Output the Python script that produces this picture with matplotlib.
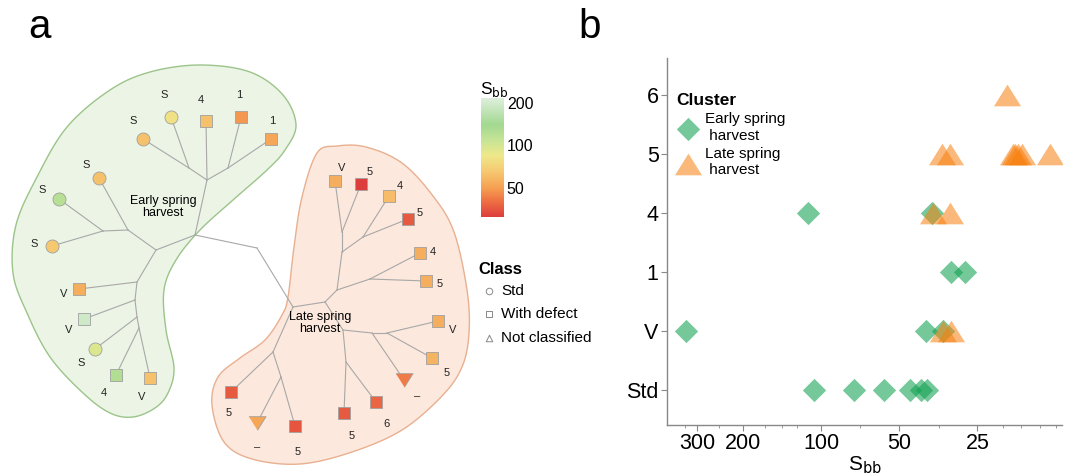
import numpy as np
import matplotlib
matplotlib.use("Agg")
import matplotlib.pyplot as plt
from matplotlib.colors import LinearSegmentedColormap, LogNorm
from matplotlib.cm import ScalarMappable

plt.rcParams['font.family'] = ['Liberation Sans', 'DejaVu Sans']

# ---------------- panel a data (tree leaves) ----------------
early_lab = ['S', 'S', '4', '1', '1', 'S', 'S', 'S', 'V', 'V', 'S', '4', 'V']
early_val = [62, 80, 62, 48, 52, 62, 120, 65, 55, 190, 95, 125, 62]
early_xy = [(143, 139), (171, 117), (206, 121), (241, 117), (271, 139), (99, 178), (59, 199),
            (52, 246), (79, 289), (84, 319), (95, 349), (116, 375), (150, 378)]
early_txt = [(133, 121), (164, 95), (201, 100), (239, 95), (272, 121), (86, 165), (42, 190),
             (34, 244), (64, 294), (69, 330), (81, 363), (104, 393), (142, 397)]

late_lab = ['V', '5', '4', '5', '4', '5', 'V', '5', '–', '6', '5', '5', '–', '5']
late_val = [55, 31, 60, 36, 55, 55, 55, 57, 42, 38, 36, 36, 52, 35]
late_xy = [(335, 181), (361, 184), (389, 196), (408, 219), (420, 253), (426, 281), (438, 321),
           (432, 358), (404, 380), (376, 402), (344, 413), (231, 392), (257, 423), (295, 426)]
late_txt = [(342, 168), (370, 172), (400, 186), (420, 213), (433, 252), (440, 284), (453, 330),
            (447, 373), (417, 396), (386, 424), (352, 436), (229, 413), (257, 447), (298, 452)]

# internal nodes of the tree
nodes = {
    'J1': (189, 168), 'J2': (228, 168), 'A': (207, 180), 'B': (195, 235),
    'E': (103, 231), 'D': (128, 230), 'C': (156, 250),
    'T1': (137, 282), 'T2': (135, 300), 'T3': (137, 317), 'T4': (139, 328),
    'L1': (257, 248), 'R0': (293, 307),
    'K1': (342, 232), 'K2': (363, 237), 'K3': (342, 252), 'K4': (370, 279), 'K5': (337, 290),
    'K6': (325, 302), 'P': (343, 330), 'Q': (346, 362), 'R': (372, 333), 'S': (387, 333),
    'M': (273, 352), 'N': (281, 377),
}
for i, p in enumerate(early_xy):
    nodes['e%d' % i] = p
for i, p in enumerate(late_xy):
    nodes['l%d' % i] = p

edges = [('e0', 'J1'), ('e1', 'J1'), ('J1', 'A'), ('e2', 'A'), ('e3', 'J2'), ('e4', 'J2'), ('J2', 'A'),
         ('A', 'B'), ('e5', 'D'), ('e6', 'E'), ('e7', 'E'), ('E', 'D'), ('D', 'C'), ('C', 'B'),
         ('C', 'T1'), ('T1', 'T2'), ('T2', 'T3'), ('T3', 'T4'),
         ('e8', 'T1'), ('e9', 'T2'), ('e10', 'T3'), ('e11', 'T4'), ('e12', 'T4'),
         ('B', 'L1'), ('L1', 'R0'), ('R0', 'K6'),
         ('l0', 'K1'), ('l1', 'K1'), ('l2', 'K2'), ('l3', 'K2'), ('K1', 'K3'), ('K2', 'K3'),
         ('l4', 'K4'), ('l5', 'K4'), ('K3', 'K5'), ('K4', 'K5'), ('K5', 'K6'),
         ('K6', 'P'), ('P', 'Q'), ('Q', 'l10'), ('l9', 'Q'), ('P', 'R'), ('l8', 'R'), ('R', 'S'),
         ('l6', 'S'), ('l7', 'S'),
         ('R0', 'M'), ('l11', 'M'), ('M', 'N'), ('l12', 'N'), ('l13', 'N')]

early_hull = [(200, 65), (250, 72), (283, 95), (296, 125), (285, 150), (267, 170), (233, 200),
              (200, 230), (176, 260), (164, 290), (166, 330), (174, 368), (168, 393), (155, 408),
              (133, 417), (110, 413), (83, 393), (50, 357), (27, 313), (13, 273), (16, 225),
              (37, 177), (67, 127), (110, 90), (150, 72)]
late_hull = [(337, 146), (317, 153), (302, 197), (294, 247), (288, 297), (282, 315), (265, 340),
             (240, 358), (218, 377), (212, 405), (224, 442), (252, 459), (300, 464), (352, 452),
             (402, 430), (442, 396), (462, 367), (469, 333), (467, 290), (454, 232), (433, 196),
             (402, 163), (366, 147)]

# colour scale (S_bb)
cmap_vals = [31, 40, 50, 65, 85, 110, 140, 216]
cmap_cols = ['#dc3d3d', '#ee7042', '#f5a052', '#f6c870', '#eee88a', '#c4e496', '#a2d890', '#deefdc']

# ---------------- panel b data ----------------
classes = ['Std', 'V', '1', '4', '5', '6']
early_sbb = [112, 37.3, 31.5, 27.8, 330, 39.4, 33.8, 106, 74.5, 57, 45.3, 41.1, 39.0]
early_cls = ['4', '4', '1', '1', 'V', 'V', 'V', 'Std', 'Std', 'Std', 'Std', 'Std', 'Std']
late_sbb = [19.2, 34.1, 32.0, 18.3, 17.9, 17.5, 16.8, 13.1, 37.0, 31.8, 34.0, 31.5]
late_cls = ['6', '5', '5', '5', '5', '5', '5', '5', '4', '4', 'V', 'V']

x_major = [300, 200, 100, 50, 25]
x_minor = [334, 248, 165, 141, 124, 71, 35, 20, 17, 14.4, 12.4]


def smooth_closed(pts, n=16):
    # closed Catmull-Rom curve through the outline points
    P = np.array(pts, float)
    m = len(P)
    t = np.linspace(0, 1, n, endpoint=False)[:, None]
    out = []
    for i in range(m):
        p0, p1, p2, p3 = P[i - 1], P[i], P[(i + 1) % m], P[(i + 2) % m]
        out.append(0.5 * (2 * p1 + (-p0 + p2) * t + (2 * p0 - 5 * p1 + 4 * p2 - p3) * t ** 2
                          + (-p0 + 3 * p1 - 3 * p2 + p3) * t ** 3))
    return np.vstack(out)


W, H = 1072, 475
fig = plt.figure(figsize=(W / 100, H / 100), dpi=100)

# ---------------- panel a ----------------
ax = fig.add_axes([0, 0, 1, 1])
ax.set_xlim(0, W)
ax.set_ylim(H, 0)
ax.axis('off')

for hull, fc, ec in [(early_hull, '#ebf4e5', '#9cc48a'), (late_hull, '#fce8dc', '#e8b090')]:
    s = smooth_closed(hull)
    ax.fill(s[:, 0], s[:, 1], facecolor=fc, edgecolor=ec, lw=1.0, zorder=1)

for a, b in edges:
    ax.plot([nodes[a][0], nodes[b][0]], [nodes[a][1], nodes[b][1]], color='#a8a8a8', lw=0.8, zorder=2)

cpos = [np.log(v / cmap_vals[0]) / np.log(cmap_vals[-1] / cmap_vals[0]) for v in cmap_vals]
cmap = LinearSegmentedColormap.from_list('sbb', list(zip(cpos, cmap_cols)))
norm = LogNorm(vmin=cmap_vals[0], vmax=cmap_vals[-1])

tri_down = [(-1, 0.8), (1, 0.8), (0, -0.8)]
for labs, vals, xy, txt in [(early_lab, early_val, early_xy, early_txt), (late_lab, late_val, late_xy, late_txt)]:
    for lab, v, (x, y), (tx, ty) in zip(labs, vals, xy, txt):
        if lab == 'S':
            mk, sz = 'o', 88
        elif lab == '–':
            mk, sz = tri_down, 150
        else:
            mk, sz = 's', 74
        ax.scatter([x], [y], marker=mk, s=sz, color=cmap(norm(v)), edgecolor='#a0a0a0',
                   linewidths=0.6, zorder=3)
        ax.text(tx, ty, lab, fontsize=8, ha='center', va='center', color='#222222', zorder=4)

ax.text(163, 207, 'Early spring\nharvest', fontsize=9, ha='center', va='center', linespacing=1.1, zorder=4)
ax.text(320, 323, 'Late spring\nharvest', fontsize=9, ha='center', va='center', linespacing=1.1, zorder=4)

# class legend
ax.text(478, 270, 'Class', fontsize=12, fontweight='bold', ha='left', va='center')
for yy, mk, lab in [(291, 'o', 'Std'), (314, 's', 'With defect'), (338, '^', 'Not classified')]:
    ax.scatter([489], [yy], marker=mk, s=22, facecolor='white', edgecolor='#888888', linewidths=0.7)
    ax.text(501, yy, lab, fontsize=11, ha='left', va='center')

ax.text(40, 38, 'a', fontsize=29, ha='center', va='baseline')
ax.text(590, 38, 'b', fontsize=29, ha='center', va='baseline')

# colour bar
cax = fig.add_axes([481 / W, 1 - 217 / H, 23 / W, 119 / H])
cb = fig.colorbar(ScalarMappable(norm=norm, cmap=cmap), cax=cax)
cb.outline.set_visible(False)
cb.set_ticks([50, 100, 200])
cb.set_ticklabels(['50', '100', '200'])
cb.ax.minorticks_off()
cax.tick_params(length=0, labelsize=11.5, pad=2)
ax.text(480, 94, r'S$_{\mathrm{bb}}$', fontsize=12.5, ha='left', va='baseline')

# ---------------- panel b ----------------
bx = fig.add_axes([667 / W, 1 - 425 / H, 395 / W, 367 / H])
bx.set_xscale('log')
green = '#12a152'
orange = '#f7800f'
tri_up = [(-1, -0.8), (1, -0.8), (0, 0.8)]
bx.scatter(early_sbb, [classes.index(c) for c in early_cls], marker='D', s=141, color=green,
           alpha=0.58, linewidths=0, label='Early spring\n harvest', zorder=3)
bx.scatter(late_sbb, [classes.index(c) for c in late_cls], marker=tri_up, s=380, color=orange,
           alpha=0.55, linewidths=0, label='Late spring\n harvest', zorder=3)
bx.set_xlim(392, 11.8)
bx.set_ylim(-0.6, 5.63)
bx.set_xticks(x_major)
bx.set_xticklabels([str(v) for v in x_major])
bx.set_xticks(x_minor, minor=True)
bx.xaxis.set_minor_formatter(plt.NullFormatter())
bx.set_yticks(range(len(classes)))
bx.set_yticklabels(classes)
for sp in ['top', 'right']:
    bx.spines[sp].set_visible(False)
for sp in ['left', 'bottom']:
    bx.spines[sp].set_color('#888888')
    bx.spines[sp].set_linewidth(1.0)
bx.tick_params(axis='both', which='major', labelsize=15.5, length=4, color='#888888', pad=2)
bx.tick_params(axis='x', which='minor', length=2.5, color='#888888')
bx.set_xlabel(r'S$_{\mathrm{bb}}$', fontsize=15, labelpad=0)

leg = bx.legend(title='Cluster', loc='upper left', bbox_to_anchor=(0.0, 0.93), frameon=False,
                alignment='left', fontsize=11, title_fontproperties={'weight': 'bold', 'size': 12.5},
                handletextpad=0.3, labelspacing=0.3, borderaxespad=0.2, handlelength=1.6)

fig.savefig('out.png', dpi=100)
